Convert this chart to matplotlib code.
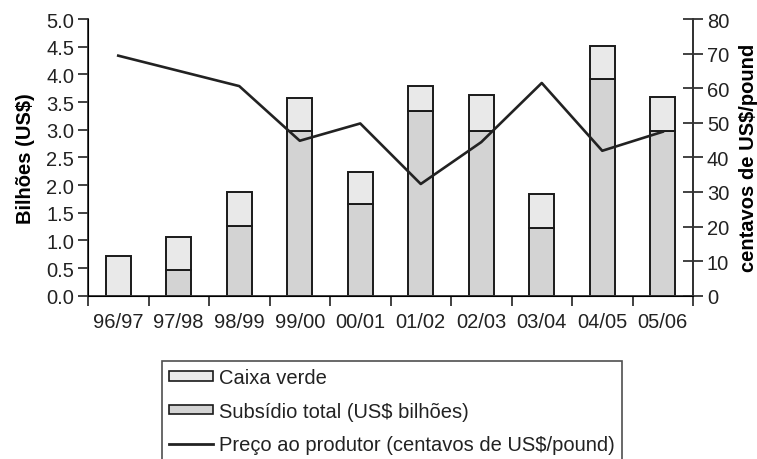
import matplotlib
matplotlib.use("Agg")
import matplotlib.pyplot as plt
from matplotlib.patches import Patch
from matplotlib.lines import Line2D
import numpy as np

plt.rcParams['font.family'] = ['Liberation Sans', 'DejaVu Sans']

categories = ["96/97", "97/98", "98/99", "99/00", "00/01", "01/02", "02/03", "03/04", "04/05", "05/06"]
subsidio_total = [0.0, 0.47, 1.255, 2.97, 1.66, 3.33, 2.98, 1.22, 3.92, 2.97]
bar_total = [0.72, 1.055, 1.88, 3.57, 2.23, 3.79, 3.62, 1.83, 4.52, 3.59]
caixa_verde = [t - s for t, s in zip(bar_total, subsidio_total)]
preco = [69.4, 65.0, 60.6, 44.8, 49.8, 32.3, 44.4, 61.5, 41.9, 47.4]

W, H = 757, 460
FS = 14.5
fig = plt.figure(figsize=(W / 100, H / 100), dpi=100)
ax = fig.add_axes([88 / W, 1 - 296.7 / H, (693 - 88) / W, (296.7 - 20) / H])

x = np.arange(len(categories))
dark = "#d3d3d3"
light = "#e9e9e9"
edge = "#1a1a1a"
bw = 0.41
ax.bar(x, subsidio_total, width=bw, color=dark, edgecolor=edge, linewidth=1.4, zorder=2)
ax.bar(x, caixa_verde, width=bw, bottom=subsidio_total, color=light, edgecolor=edge, linewidth=1.4, zorder=2)

ax.set_xlim(-0.5, len(categories) - 0.5)
ax.set_ylim(0, 5.0)
ax.set_yticks(np.arange(0, 5.01, 0.5))
ax.set_yticklabels([f"{v:.1f}" for v in np.arange(0, 5.01, 0.5)])
ax.set_xticks(x)
ax.set_xticklabels(categories)
ax.set_xticks(np.arange(-0.5, len(categories), 1.0), minor=True)
ax.tick_params(axis='x', which='major', length=0, pad=12, labelsize=FS, labelcolor="#222222")
ax.tick_params(axis='x', which='minor', length=7, width=1.3, direction='out', color="#333333")
ax.tick_params(axis='y', length=7, width=1.3, direction='out', color="#333333", labelsize=FS, labelcolor="#222222", pad=3)

ax.spines['top'].set_visible(False)
for s in ['left', 'bottom', 'right']:
    ax.spines[s].set_linewidth(1.3)
    ax.spines[s].set_color("#333333")

ax.set_ylabel("Bilhões (US$)", fontsize=FS, fontweight='bold', labelpad=8)

ax2 = ax.twinx()
ax2.plot(x, preco, color="#222222", linewidth=1.9, zorder=3)
ax2.set_ylim(0, 80)
ax2.set_yticks(np.arange(0, 81, 10))
ax2.tick_params(axis='y', length=14, width=1.3, direction='inout', color="#333333", labelsize=FS, labelcolor="#222222", pad=3)
ax2.spines['top'].set_visible(False)
ax2.spines['right'].set_linewidth(1.3)
ax2.spines['right'].set_color("#333333")
ax2.set_ylabel("centavos de US$/pound", fontsize=FS, fontweight='bold', labelpad=7)

handles = [
    Patch(facecolor=light, edgecolor=edge, linewidth=1.2),
    Patch(facecolor=dark, edgecolor=edge, linewidth=1.2),
    Line2D([0], [0], color="#222222", linewidth=2.0),
]
labels = ["Caixa verde", "Subsídio total (US$ bilhões)", "Preço ao produtor (centavos de US$/pound)"]
leg = fig.legend(handles, labels, loc='upper left', bbox_to_anchor=(162 / W, 1 - 362 / H),
                 fontsize=FS, frameon=True, fancybox=False, edgecolor="#222222",
                 handlelength=2.2, handleheight=0.35, handletextpad=0.3, labelspacing=0.72,
                 borderpad=0.35, borderaxespad=0.0)
leg.get_frame().set_linewidth(1.2)
for t in leg.get_texts():
    t.set_color("#222222")

fig.savefig("out.png", dpi=100)
